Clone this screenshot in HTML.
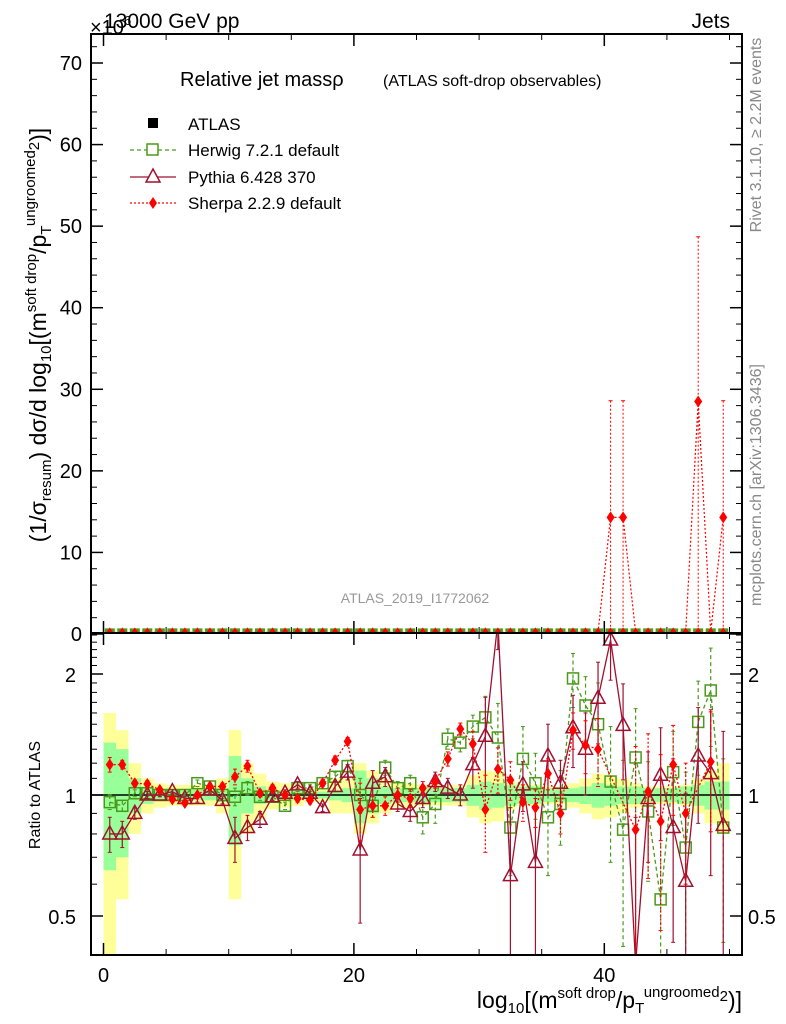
<!DOCTYPE html>
<html><head><meta charset="utf-8"><style>
html,body{margin:0;padding:0;background:#fff;overflow:hidden;width:786px;height:1024px}
svg{display:block}
svg text{font-family:"Liberation Sans","DejaVu Sans",sans-serif}
</style></head><body>
<svg id="c" width="786" height="1024" xmlns="http://www.w3.org/2000/svg"></svg>
<script>
const bins=[0,1,2,3,4,5,6,7,8,9,10,11,12,13,14,15,16,17,18,19,20,21,22,23,24,25,26,27,28,29,30,31,32,33,34,35,36,37,38,39,40,41,42,43,44,45,46,47,48,49];
const herwigRatio=[0.96,0.94,1.01,1.01,1.0,1.0,1.0,1.07,1.05,1.0,0.99,1.04,0.99,0.99,0.94,1.04,1.04,1.07,1.11,1.18,1.0,0.94,1.17,1.04,1.07,0.88,0.95,1.38,1.35,1.48,1.56,1.39,0.83,1.23,1.07,0.88,0.95,1.95,1.67,1.5,1.08,0.82,1.24,0.91,0.55,1.14,0.74,1.52,1.82,0.83];
const pythiaRatio=[0.80,0.80,0.90,1.0,1.0,1.02,0.98,0.98,1.03,0.97,0.78,0.83,0.87,0.99,1.01,1.06,1.01,0.93,1.05,1.14,0.73,1.07,1.11,0.95,0.91,0.98,1.08,1.04,1.0,1.19,1.40,2.7,0.63,1.06,0.68,1.25,1.07,1.47,1.30,1.74,2.43,1.49,0.38,0.98,1.12,0.83,0.61,1.25,1.13,0.84];
const sherpaRatio=[1.19,1.19,1.07,1.065,1.03,0.975,0.955,1.0,1.05,1.05,1.11,1.18,1.01,1.04,1.0,0.98,0.97,1.07,1.22,1.36,0.92,0.94,0.94,1.0,0.98,1.04,1.08,1.23,1.46,1.34,0.92,1.16,1.09,0.96,0.93,1.13,0.90,1.45,1.33,1.30,null,null,0.82,1.02,0.86,1.19,0.90,null,1.21,null];
const herwigErr=[0.04,0.03,0.02,0.02,0.01,0.01,0.01,0.02,0.02,0.02,0.05,0.04,0.02,0.02,0.02,0.02,0.02,0.02,0.03,0.04,0.1,0.06,0.05,0.04,0.05,0.08,0.1,0.08,0.07,0.1,0.2,0.3,0.2,0.25,0.2,0.25,0.2,0.3,0.3,0.4,0.4,0.4,0.4,0.3,0.3,0.3,0.4,0.4,0.5,0.4];
const pythiaErr=[0.08,0.06,0.03,0.02,0.01,0.01,0.01,0.02,0.02,0.02,0.1,0.06,0.04,0.02,0.02,0.02,0.02,0.02,0.03,0.05,0.25,0.08,0.06,0.04,0.05,0.05,0.06,0.06,0.06,0.15,0.35,0.4,0.3,0.15,0.3,0.25,0.15,0.3,0.3,0.4,0.5,0.4,0.5,0.3,0.35,0.4,0.4,0.4,0.5,0.6];
const sherpaErr=[0.05,0.03,0.02,0.02,0.01,0.01,0.01,0.01,0.02,0.02,0.05,0.04,0.02,0.02,0.02,0.02,0.02,0.02,0.03,0.03,0.15,0.06,0.05,0.04,0.05,0.04,0.04,0.05,0.05,0.1,0.2,0.15,0.12,0.1,0.1,0.1,0.1,0.15,0.2,0.25,0,0,0.5,0.4,0.4,0.3,0.3,0,0.4,0];
const statBand=[0.35,0.3,0.1,0.05,0.03,0.03,0.03,0.03,0.03,0.04,0.25,0.1,0.05,0.03,0.03,0.03,0.02,0.02,0.03,0.04,0.15,0.1,0.05,0.04,0.04,0.04,0.04,0.04,0.04,0.06,0.08,0.07,0.06,0.05,0.05,0.04,0.04,0.04,0.05,0.07,0.06,0.05,0.05,0.04,0.04,0.04,0.05,0.06,0.08,0.08];
const totBand=[0.6,0.45,0.2,0.1,0.07,0.06,0.06,0.06,0.06,0.1,0.45,0.2,0.13,0.08,0.07,0.06,0.04,0.04,0.1,0.1,0.2,0.15,0.1,0.07,0.07,0.06,0.06,0.06,0.06,0.12,0.15,0.14,0.08,0.06,0.06,0.05,0.05,0.07,0.1,0.13,0.12,0.1,0.07,0.05,0.05,0.05,0.06,0.1,0.15,0.2];
const mainData=[0.2,0.2,0.2,0.2,0.2,0.2,0.2,0.2,0.2,0.2,0.2,0.2,0.2,0.2,0.2,0.2,0.2,0.2,0.2,0.2,0.2,0.2,0.2,0.2,0.2,0.2,0.2,0.2,0.2,0.2,0.2,0.2,0.2,0.2,0.2,0.2,0.2,0.2,0.2,0.2,0.2,0.2,0.2,0.2,0.2,0.2,0.2,0.2,0.2,0.2];
const sherpaMain=[0.2,0.2,0.2,0.2,0.2,0.2,0.2,0.2,0.2,0.2,0.2,0.2,0.2,0.2,0.2,0.2,0.2,0.2,0.2,0.2,0.2,0.2,0.2,0.2,0.2,0.2,0.2,0.2,0.2,0.2,0.2,0.2,0.2,0.2,0.2,0.2,0.2,0.2,0.2,0.2,14.3,14.3,0.2,0.2,0.2,0.2,0.2,28.5,0.2,14.3];
const sherpaMainErr=[0,0,0,0,0,0,0,0,0,0,0,0,0,0,0,0,0,0,0,0,0,0,0,0,0,0,0,0,0,0,0,0,0,0,0,0,0,0,0,0,14.3,14.3,0,0,0,0,0,20.2,0,14.3];
const yTicks=[0,10,20,30,40,50,60,70];
const xTicks=[0,20,40];
const rTicks=[0.5,1,2];

const S=document.getElementById('c');const NS='http://www.w3.org/2000/svg';
function el(t,a,p){const e=document.createElementNS(NS,t);for(const k in a)e.setAttribute(k,a[k]);(p||S).appendChild(e);return e;}
const L=91,R=742,T=34,MB=633,RB=955;
const X=v=>103.5+12.52*v;
const Y=v=>634-8.157*v;
const RY=r=>795-121*Math.log2(r);
const clampR=y=>Math.max(MB,Math.min(RB,y));
const W=12.52,H=6.26;

const gb=el('g',{});
bins.forEach((b,i)=>{
 const y1=clampR(RY(1+totBand[i])),y2=clampR(RY(Math.max(0.01,1-totBand[i])));
 const r=el('rect',{x:X(b),y:y1,width:W,height:y2-y1,fill:'#ffff99'},gb);
 
});
bins.forEach((b,i)=>{
 const y1=RY(1+statBand[i]),y2=RY(1-statBand[i]);
 const r=el('rect',{x:X(b),y:y1,width:W,height:y2-y1,fill:'#99ff99'},gb);
 
});
el('line',{x1:L,x2:R,y1:RY(1),y2:RY(1),stroke:'#000','stroke-width':1.5});

const clip=el('clipPath',{id:'rc'});el('rect',{x:L,y:MB,width:R-L,height:RB-MB},clip);
const clipM=el('clipPath',{id:'mc'});el('rect',{x:L,y:T,width:R-L,height:MB-T},clipM);

function series(vals,errs,color,dash,marker,name){
 const g=el('g',{'clip-path':'url(#rc)'});
 
 let d='';
 vals.forEach((v,i)=>{ if(v==null)return; d+=(d?'L':'M')+(X(bins[i])+H)+','+RY(v);});
 el('path',{d,fill:'none',stroke:color,'stroke-width':1.3,'stroke-dasharray':dash},g);
 vals.forEach((v,i)=>{
  if(v==null)return;const x=X(bins[i])+H,y=RY(v);const e=errs[i];
  if(e>0){el('line',{x1:x,x2:x,y1:RY(v+e),y2:RY(Math.max(0.05,v-e)),stroke:color,'stroke-width':1.2,'stroke-dasharray':dash},g);
   el('line',{x1:x-2,x2:x+2,y1:RY(v+e),y2:RY(v+e),stroke:color},g);el('line',{x1:x-2,x2:x+2,y1:RY(Math.max(0.05,v-e)),y2:RY(Math.max(0.05,v-e)),stroke:color},g);}
  let m;
  if(marker=='sq')m=el('rect',{x:x-5.5,y:y-5.5,width:11,height:11,fill:'none',stroke:color,'stroke-width':1.5},g);
  else if(marker=='tri')m=el('path',{d:`M${x},${y-8}L${x+7},${y+5}L${x-7},${y+5}Z`,fill:'none',stroke:color,'stroke-width':1.5},g);
  else m=el('path',{d:`M${x},${y-6}L${x+4},${y}L${x},${y+6}L${x-4},${y}Z`,fill:color},g);
  
 });
}
series(herwigRatio,herwigErr,'#4a9a1a','4,3','sq','herwig');
series(pythiaRatio,pythiaErr,'#a01030','','tri','pythia');
series(sherpaRatio,sherpaErr,'#ff0000','2,2','dia','sherpa');

const mg=el('g',{'clip-path':'url(#mc)'});
let sd='';sherpaMain.forEach((v,i)=>{sd+=(sd?'L':'M')+(X(bins[i])+H)+','+Y(v);});
el('path',{d:sd,fill:'none',stroke:'#ff0000','stroke-width':1.2,'stroke-dasharray':'2,2'},mg);
bins.forEach((b,i)=>{
 const x=X(b)+H;
 el('rect',{x:x-5,y:Y(mainData[i])-4,width:10,height:6,fill:'#4a9a1a'},mg);
 const t=el('path',{d:`M${x},${Y(mainData[i])-5}L${x+4},${Y(mainData[i])+1}L${x-4},${Y(mainData[i])+1}Z`,fill:'#ff0000'},mg);
 
 const v=sherpaMain[i],e=sherpaMainErr[i];
 if(e>0){el('line',{x1:x,x2:x,y1:Y(v+e),y2:Y(0),stroke:'#ff0000','stroke-dasharray':'2,2'},mg);
  el('line',{x1:x-2,x2:x+2,y1:Y(v+e),y2:Y(v+e),stroke:'#ff0000'},mg);
  const d=el('path',{d:`M${x},${Y(v)-6}L${x+4},${Y(v)}L${x},${Y(v)+6}L${x-4},${Y(v)}Z`,fill:'#ff0000'},mg);
  }
});

const f1=el('rect',{x:L,y:T,width:R-L,height:MB-T,fill:'none',stroke:'#000','stroke-width':2});
const f2=el('rect',{x:L,y:MB,width:R-L,height:RB-MB,fill:'none',stroke:'#000','stroke-width':2});

function txt(x,y,s,attrs,name){const t=el('text',Object.assign({x,y,'font-size':20,fill:'#000'},attrs||{}));t.innerHTML=s;return t;}
yTicks.forEach(v=>{const y=Y(v);el('line',{x1:L,x2:L+12,y1:y,y2:y,stroke:'#000','stroke-width':1.5});el('line',{x1:R-12,x2:R,y1:y,y2:y,stroke:'#000','stroke-width':1.5});
 for(let k=1;k<5;k++){const yy=Y(v+2*k);if(yy<T)break;el('line',{x1:L,x2:L+6,y1:yy,y2:yy,stroke:'#000'});el('line',{x1:R-6,x2:R,y1:yy,y2:yy,stroke:'#000'});}
 txt(82,y+7,String(v),{'text-anchor':'end'},'y-tick-label');});
xTicks.forEach(v=>{const x=X(v);[[T,T+12],[MB-12,MB],[MB,MB+12],[RB-12,RB]].forEach(p=>el('line',{x1:x,x2:x,y1:p[0],y2:p[1],stroke:'#000','stroke-width':1.5}));
 txt(x,982,String(v),{'text-anchor':'middle'},'x-tick-label');});
for(let v=5;v<52;v+=5){if(v%20==0)continue;const x=X(v);[[T,T+6],[MB-6,MB],[MB,MB+6],[RB-6,RB]].forEach(p=>el('line',{x1:x,x2:x,y1:p[0],y2:p[1],stroke:'#000'}));}
rTicks.forEach(v=>{const y=RY(v);el('line',{x1:L,x2:L+12,y1:y,y2:y,stroke:'#000','stroke-width':1.5});el('line',{x1:R-12,x2:R,y1:y,y2:y,stroke:'#000','stroke-width':1.5});
 txt(76,y+8,String(v),{'text-anchor':'end'},'ratio-tick-label');txt(748,y+8,String(v),{},'ratio-tick-label-right');});
[0.6,0.7,0.8,0.9,1.1,1.2,1.3,1.4,1.5,1.6,1.7,1.8,1.9,2.1,2.2,2.3,2.4,2.5].forEach(v=>{const y=RY(v);el('line',{x1:L,x2:L+6,y1:y,y2:y,stroke:'#000'});el('line',{x1:R-6,x2:R,y1:y,y2:y,stroke:'#000'});});

txt(90,34,'×10<tspan font-size="13" dy="-9">6</tspan>',{'font-size':20},'scale-label');
txt(104,28,'13000 GeV pp',{'font-size':21},'energy-label');
txt(730,28,'Jets',{'text-anchor':'end','font-size':21},'process-label');
txt(180,86,'Relative jet massρ',{'font-size':20},'title');
txt(383,86,'(ATLAS soft-drop observables)',{'font-size':16},'subtitle');
txt(415,603,'ATLAS_2019_I1772062',{'font-size':14,fill:'#999','text-anchor':'middle'},'analysis-id');
const lg=el('g',{});
el('rect',{x:148,y:118,width:10,height:10,fill:'#000'},lg);txt(188,130,'ATLAS',{'font-size':17},'legend-atlas');
el('line',{x1:130,x2:176,y1:150,y2:150,stroke:'#4a9a1a','stroke-dasharray':'4,3','stroke-width':1.3},lg);el('rect',{x:147,y:144,width:11,height:11,fill:'#fff',stroke:'#4a9a1a','stroke-width':1.5},lg);txt(188,156,'Herwig 7.2.1 default',{'font-size':17},'legend-herwig');
el('line',{x1:130,x2:176,y1:177,y2:177,stroke:'#a01030','stroke-width':1.3},lg);el('path',{d:'M153,169L160,182L146,182Z',fill:'#fff',stroke:'#a01030','stroke-width':1.5},lg);txt(188,183,'Pythia 6.428 370',{'font-size':17},'legend-pythia');
el('line',{x1:130,x2:176,y1:203,y2:203,stroke:'#ff0000','stroke-dasharray':'2,2','stroke-width':1.3},lg);el('path',{d:'M153,197L157,203L153,209L149,203Z',fill:'#ff0000'},lg);txt(188,209,'Sherpa 2.2.9 default',{'font-size':17},'legend-sherpa');
txt(0,0,'Rivet 3.1.10, ≥ 2.2M events',{'font-size':16,fill:'#888',transform:'translate(761,135) rotate(-90)','text-anchor':'middle'},'rivet-label');
txt(0,0,'mcplots.cern.ch [arXiv:1306.3436]',{'font-size':16,fill:'#888',transform:'translate(761,485) rotate(-90)','text-anchor':'middle'},'mcplots-label');
txt(0,0,'(1/σ<tspan font-size="15" dy="5">resum</tspan><tspan dy="-5">) dσ/d log</tspan><tspan font-size="15" dy="5">10</tspan><tspan dy="-5">[(m</tspan><tspan font-size="15" dy="-10">soft drop</tspan><tspan dy="10">/p</tspan><tspan font-size="15" dy="5">T</tspan><tspan font-size="15" dy="-16">ungroomed</tspan><tspan font-size="15" dy="4">2</tspan><tspan dy="7">)]</tspan>',{'font-size':23,transform:'translate(46,335) rotate(-90)','text-anchor':'middle'},'y-axis-title');
txt(0,0,'Ratio to ATLAS',{'font-size':16,transform:'translate(40,795) rotate(-90)','text-anchor':'middle'},'ratio-axis-title');
txt(742,1008,'log<tspan font-size="15" dy="5">10</tspan><tspan dy="-5">[(m</tspan><tspan font-size="15" dy="-10">soft drop</tspan><tspan dy="10">/p</tspan><tspan font-size="15" dy="5">T</tspan><tspan font-size="15" dy="-16">ungroomed</tspan><tspan font-size="15" dy="4">2</tspan><tspan dy="7">)]</tspan>',{'font-size':23,'text-anchor':'end'},'x-axis-title');
</script>
</body></html>
